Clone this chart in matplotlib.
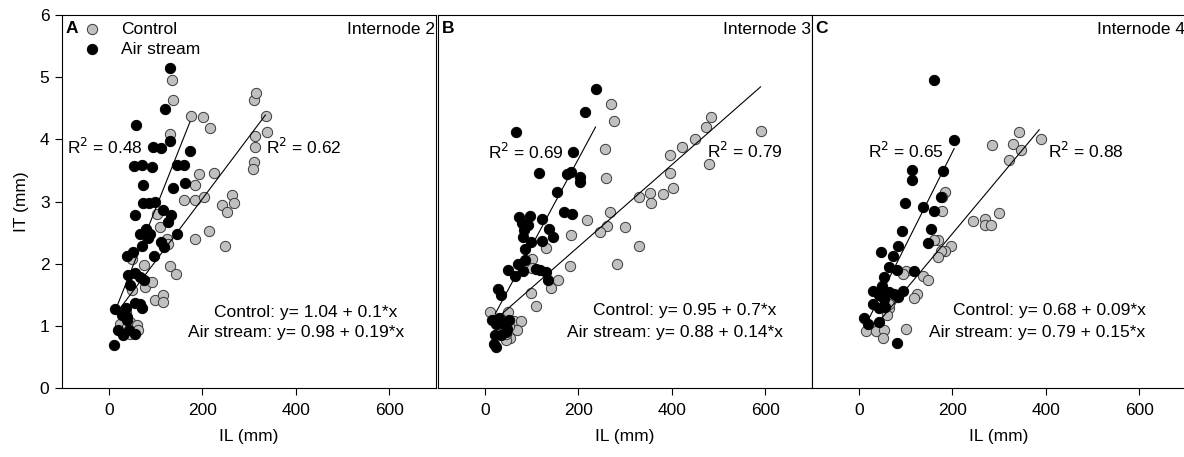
import matplotlib.pyplot as plt
import numpy as np

plt.rcParams['font.family'] = ['Liberation Sans', 'DejaVu Sans']

# данные: длина междоузлия IL (мм) и толщина IT (мм)
# панель A - Internode 2
ctrl_x_a = [136, 137, 176, 201, 216, 132, 311, 314, 336, 339, 313, 313, 311, 309, 193, 225, 184, 162,
            184, 203, 264, 267, 243, 252, 214, 184, 248, 104, 109, 125, 127, 76, 132, 144, 82, 77, 50,
            99, 116, 117, 24, 39, 46, 61, 63, 46, 36, 49, 93]
ctrl_y_a = [4.95, 4.64, 4.38, 4.36, 4.18, 4.08, 4.63, 4.75, 4.38, 4.11, 4.06, 3.88, 3.64, 3.53, 3.45,
            3.46, 3.26, 3.03, 3.03, 3.07, 3.11, 2.97, 2.94, 2.83, 2.53, 2.40, 2.28, 2.80, 2.59, 2.40,
            2.32, 1.98, 1.96, 1.84, 1.71, 1.62, 1.57, 1.41, 1.49, 1.38, 1.03, 0.98, 1.06, 1.01, 0.93,
            0.87, 1.20, 2.08, 1.70]
air_x_a = [132, 121, 59, 94, 112, 131, 174, 54, 71, 93, 145, 162, 164, 138, 73, 73, 86, 99, 57, 117,
           134, 127, 79, 66, 89, 84, 147, 71, 112, 119, 96, 39, 52, 41, 56, 66, 75, 46, 14, 36, 56, 66,
           71, 29, 39, 20, 31, 57, 39, 11, 44]
air_y_a = [5.14, 4.49, 4.23, 3.88, 3.86, 3.97, 3.81, 3.57, 3.58, 3.56, 3.59, 3.59, 3.30, 3.21, 3.26,
           2.98, 2.97, 3.00, 2.78, 2.87, 2.79, 2.67, 2.55, 2.48, 2.48, 2.42, 2.48, 2.28, 2.35, 2.27,
           2.13, 2.13, 2.18, 1.81, 1.85, 1.79, 1.73, 1.65, 1.27, 1.28, 1.37, 1.35, 1.29, 1.17, 1.14,
           0.93, 0.86, 0.87, 1.09, 0.69, 0.93]

# панель B - Internode 3
ctrl_x_b = [271, 276, 257, 260, 484, 473, 450, 421, 396, 480, 591, 396, 403, 381, 353, 355, 330, 268,
            261, 246, 218, 299, 331, 282, 184, 182, 130, 101, 100, 157, 141, 98, 109, 11, 49, 37, 62,
            78, 68, 55, 46, 51, 31, 46]
ctrl_y_b = [4.57, 4.29, 3.85, 3.38, 4.36, 4.20, 4.01, 3.88, 3.74, 3.61, 4.14, 3.46, 3.21, 3.12, 3.13,
            2.98, 3.08, 2.83, 2.60, 2.51, 2.70, 2.59, 2.29, 1.99, 2.46, 1.96, 2.26, 2.07, 1.93, 1.74,
            1.61, 1.53, 1.32, 1.23, 1.23, 1.09, 1.07, 1.07, 0.93, 0.81, 0.78, 0.99, 0.87, 0.87]
air_x_b = [237, 214, 66, 189, 117, 175, 185, 203, 204, 154, 169, 187, 73, 96, 123, 80, 92, 85, 137, 82,
           99, 123, 146, 86, 87, 71, 82, 49, 64, 109, 119, 130, 135, 29, 34, 16, 23, 30, 37, 51, 48,
           21, 34, 19, 25, 46]
air_y_b = [4.81, 4.44, 4.12, 3.79, 3.46, 3.45, 3.47, 3.39, 3.31, 3.15, 2.83, 2.80, 2.75, 2.76, 2.72,
           2.65, 2.63, 2.54, 2.55, 2.43, 2.35, 2.36, 2.43, 2.23, 2.06, 2.00, 1.89, 1.90, 1.80, 1.92,
           1.90, 1.87, 1.74, 1.59, 1.49, 1.09, 1.03, 1.12, 1.05, 1.09, 0.95, 0.86, 0.85, 0.71, 0.66,
           0.90]

# панель C - Internode 4
ctrl_x_c = [343, 286, 330, 346, 389, 321, 184, 179, 179, 299, 244, 269, 271, 283, 169, 162, 198, 184,
            175, 169, 101, 94, 137, 148, 124, 119, 64, 60, 100, 26, 16, 36, 55, 51, 69, 64]
ctrl_y_c = [4.11, 3.91, 3.92, 3.83, 4.01, 3.67, 3.15, 3.07, 2.85, 2.82, 2.69, 2.72, 2.63, 2.63, 2.38,
            2.38, 2.29, 2.21, 2.20, 2.10, 1.89, 1.83, 1.80, 1.73, 1.52, 1.45, 1.29, 1.17, 0.95, 0.98,
            0.91, 0.91, 0.93, 0.80, 1.41, 1.35]
air_x_c = [161, 204, 114, 114, 180, 177, 137, 160, 98, 154, 149, 92, 85, 74, 48, 65, 82, 118, 54, 50,
           30, 51, 57, 64, 44, 75, 84, 94, 55, 31, 44, 57, 12, 19, 44, 81]
air_y_c = [4.95, 3.99, 3.50, 3.34, 3.49, 3.07, 2.91, 2.85, 2.97, 2.55, 2.33, 2.53, 2.29, 2.12, 2.18,
           1.95, 1.90, 1.88, 1.79, 1.64, 1.56, 1.56, 1.52, 1.54, 1.49, 1.52, 1.46, 1.56, 1.43, 1.35,
           1.28, 1.30, 1.12, 1.03, 1.06, 0.73]

# линии регрессии: свободный член, наклон, диапазон x
ctrl_fit = [(1.04, 0.0100, 25, 335), (0.95, 0.0066, 25, 590), (0.68, 0.0090, 45, 386)]
air_fit = [(0.98, 0.0190, 18, 174), (0.88, 0.0140, 23, 237), (0.79, 0.0150, 19, 204)]

r2_ctrl = ['0.62', '0.79', '0.88']
r2_air = ['0.48', '0.69', '0.65']
ctrl_eq = ['Control: y= 1.04 + 0.1*x', 'Control: y= 0.95 + 0.7*x', 'Control: y= 0.68 + 0.09*x']
air_eq = ['Air stream: y= 0.98 + 0.19*x', 'Air stream: y= 0.88 + 0.14*x', 'Air stream: y= 0.79 + 0.15*x']
letters = ['A', 'B', 'C']
titles = ['Internode 2', 'Internode 3', 'Internode 4']

ctrl_x = [ctrl_x_a, ctrl_x_b, ctrl_x_c]
ctrl_y = [ctrl_y_a, ctrl_y_b, ctrl_y_c]
air_x = [air_x_a, air_x_b, air_x_c]
air_y = [air_y_a, air_y_b, air_y_c]

# позиции подписей (в координатах данных)
r2_air_pos = [(-89, 3.88), (6, 3.80), (19, 3.82)]
r2_ctrl_pos = [(336, 3.88), (475, 3.81), (404, 3.82)]
ctrl_eq_pos = [(225, 1.22), (231, 1.25), (201, 1.25)]
air_eq_pos = [(170, 0.90), (176, 0.90), (150, 0.90)]

fs = 12.5  # основной размер шрифта

fig = plt.figure(figsize=(11.84, 4.57), dpi=100)
lefts = [62 / 1184, 438 / 1184, 812 / 1184]

for i in range(3):
    ax = fig.add_axes([lefts[i], 69 / 457, 374 / 1184, 373 / 457])
    ax.scatter(ctrl_x[i], ctrl_y[i], s=55, color='#c0c0c0', edgecolors='#3a3a3a', linewidths=0.7,
               zorder=3, label='Control')
    ax.scatter(air_x[i], air_y[i], s=55, color='black', edgecolors='black', linewidths=0.7,
               zorder=4, label='Air stream')

    for fit in (ctrl_fit[i], air_fit[i]):
        b0, b1, x0, x1 = fit
        xx = np.array([x0, x1])
        ax.plot(xx, b0 + b1 * xx, color='black', lw=0.8, zorder=5)

    ax.set_xlim(-100, 700)
    ax.set_ylim(0, 6)
    ax.set_xticks([0, 200, 400, 600])
    ax.tick_params(direction='out', length=5, width=0.8, labelsize=12.5, pad=6)
    ax.tick_params(axis='y', pad=4)
    for sp in ax.spines.values():
        sp.set_linewidth(0.8)

    if i == 0:
        ax.set_yticks([0, 1, 2, 3, 4, 5, 6])
        ax.set_ylabel('IT (mm)', fontsize=fs, labelpad=8)
    else:
        ax.set_yticks([])
    ax.set_xlabel('IL (mm)', fontsize=fs, labelpad=8)

    ax.text(0.01, 0.983, letters[i], transform=ax.transAxes, fontsize=fs, fontweight='bold',
            va='top', ha='left')
    ax.text(0.997, 0.98, titles[i], transform=ax.transAxes, fontsize=fs, va='top', ha='right')

    ax.text(r2_air_pos[i][0], r2_air_pos[i][1], 'R$^2$ = ' + r2_air[i], fontsize=fs, va='center')
    ax.text(r2_ctrl_pos[i][0], r2_ctrl_pos[i][1], 'R$^2$ = ' + r2_ctrl[i], fontsize=fs, va='center')
    ax.text(ctrl_eq_pos[i][0], ctrl_eq_pos[i][1], ctrl_eq[i], fontsize=fs, va='center')
    ax.text(air_eq_pos[i][0], air_eq_pos[i][1], air_eq[i], fontsize=fs, va='center')

    if i == 0:
        ax.legend(loc='upper left', bbox_to_anchor=(0.034, 0.982), frameon=False, fontsize=fs,
                  handletextpad=0.67, labelspacing=0.28, borderaxespad=0, borderpad=0)

fig.savefig('out.png', dpi=100)
